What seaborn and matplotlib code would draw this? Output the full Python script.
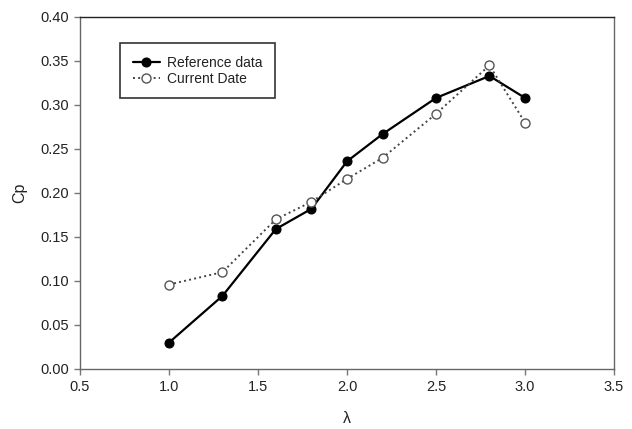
import matplotlib
matplotlib.use("Agg")
import matplotlib.pyplot as plt
import seaborn as sns
import pandas as pd

lam = [1.0, 1.3, 1.6, 1.8, 2.0, 2.2, 2.5, 2.8, 3.0]
cp_reference = [0.030, 0.083, 0.159, 0.182, 0.236, 0.267, 0.308, 0.333, 0.308]
cp_current = [0.096, 0.110, 0.170, 0.190, 0.216, 0.240, 0.290, 0.345, 0.280]
x_ticks = [0.5, 1.0, 1.5, 2.0, 2.5, 3.0, 3.5]
y_ticks = [0.00, 0.05, 0.10, 0.15, 0.20, 0.25, 0.30, 0.35, 0.40]

sns.set_style("ticks")
plt.rcParams['font.family'] = ['Liberation Sans', 'DejaVu Sans']

df_ref = pd.DataFrame({"lam": lam, "cp": cp_reference})
df_cur = pd.DataFrame({"lam": lam, "cp": cp_current})

fig = plt.figure(figsize=(6.32, 4.29), dpi=100)
ax = fig.add_axes([0.1266, 0.1399, 0.845, 0.8205])

sns.lineplot(data=df_ref, x="lam", y="cp", ax=ax, color="black", linewidth=1.6,
             marker="o", markersize=6.5, markerfacecolor="black", markeredgecolor="black",
             label="Reference data")
sns.lineplot(data=df_cur, x="lam", y="cp", ax=ax, color="#444444", linewidth=1.4,
             linestyle=":", marker="o", markersize=6.5, markerfacecolor="white",
             markeredgecolor="#555555", markeredgewidth=1.0, label="Current Date")

ax.set_xlim(0.5, 3.5)
ax.set_ylim(0.0, 0.40)
ax.set_xticks(x_ticks)
ax.set_xticklabels([f"{v:.1f}" for v in x_ticks])
ax.set_yticks(y_ticks)
ax.set_yticklabels([f"{v:.2f}" for v in y_ticks])
ax.tick_params(direction="out", length=4, width=1, labelsize=10.5, color="#777777",
               labelcolor="#222222", top=False, right=False, pad=4)
for name, s in ax.spines.items():
    s.set_linewidth(1.0)
    s.set_color("#222222" if name == "top" else "#666666")

ax.set_xlabel("λ", fontsize=11.5, labelpad=12, color="#222222")
ax.set_ylabel("Cp", fontsize=11.5, labelpad=9, color="#222222")

leg = ax.legend(loc="upper left", bbox_to_anchor=(0.075, 0.926), borderaxespad=0,
                frameon=True, fancybox=False, edgecolor="black", fontsize=10,
                handlelength=2.0, borderpad=0.9, labelspacing=0.15, handletextpad=0.5)
leg.get_frame().set_linewidth(1.2)
for t in leg.get_texts():
    t.set_color("#222222")

fig.savefig("out.png", dpi=100)
